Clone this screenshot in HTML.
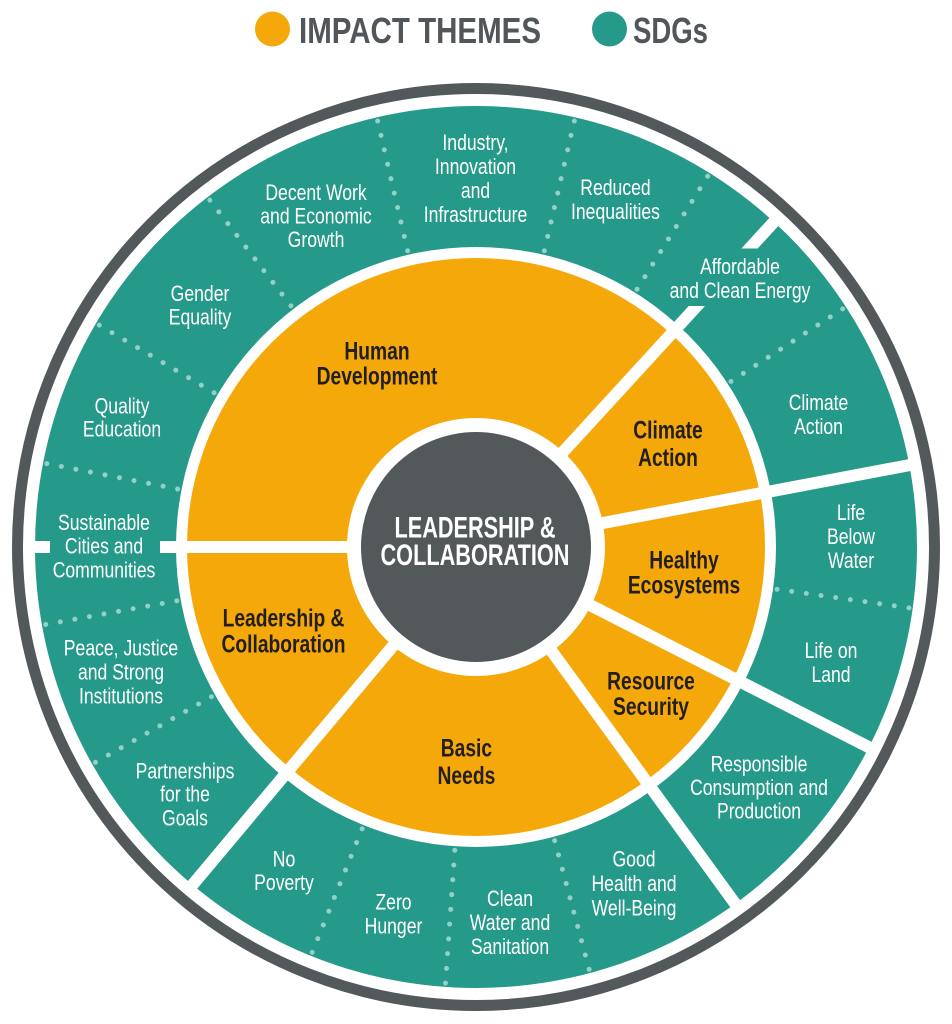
<!DOCTYPE html>
<html>
<head>
<meta charset="utf-8">
<style>
html,body{margin:0;padding:0;background:#ffffff;}
svg{display:block;}
.w{fill:#ffffff;font-family:"Liberation Sans",Arial,sans-serif;font-size:22px;text-anchor:middle;}
.o{fill:#231f20;font-family:"Liberation Sans",Arial,sans-serif;font-size:25px;font-weight:bold;text-anchor:middle;}
</style>
</head>
<body>
<svg width="952" height="1024" viewBox="0 0 952 1024" xmlns="http://www.w3.org/2000/svg">
  <!-- Legend -->
  <circle cx="272.5" cy="29" r="17.5" fill="#f5a80a"/>
  <text x="299" y="43" font-family="Liberation Sans, Arial, sans-serif" font-size="36" font-weight="bold" fill="#50565a" textLength="242" lengthAdjust="spacingAndGlyphs">IMPACT THEMES</text>
  <circle cx="609.5" cy="29" r="17.5" fill="#269a8a"/>
  <text x="633" y="43" font-family="Liberation Sans, Arial, sans-serif" font-size="36" font-weight="bold" fill="#50565a" textLength="75" lengthAdjust="spacingAndGlyphs">SDGs</text>

  <!-- Outer gray ring -->
  <circle cx="476" cy="547" r="458.5" fill="none" stroke="#53595b" stroke-width="11"/>

  <!-- Teal ring -->
  <circle cx="476" cy="547" r="441" fill="#269a8a"/>
  <circle cx="476" cy="547" r="300" fill="#ffffff"/>
  <!-- Orange ring -->
  <circle cx="476" cy="547" r="289" fill="#f5a80a"/>

  <!-- Dotted radial lines -->
  <g stroke="#93d1c6" stroke-width="5" stroke-linecap="round" stroke-dasharray="0 14.8" fill="none">
    <line x1="304" y1="0" x2="438" y2="0" transform="translate(476,547) rotate(-58)"/>
    <line x1="304" y1="0" x2="438" y2="0" transform="translate(476,547) rotate(-77)"/>
    <line x1="304" y1="0" x2="438" y2="0" transform="translate(476,547) rotate(-103)"/>
    <line x1="304" y1="0" x2="438" y2="0" transform="translate(476,547) rotate(-127.5)"/>
    <line x1="304" y1="0" x2="438" y2="0" transform="translate(476,547) rotate(-149.5)"/>
    <line x1="304" y1="0" x2="438" y2="0" transform="translate(476,547) rotate(-169)"/>
    <line x1="304" y1="0" x2="438" y2="0" transform="translate(476,547) rotate(-190.2)"/>
    <line x1="304" y1="0" x2="438" y2="0" transform="translate(476,547) rotate(-209.5)"/>
    <line x1="304" y1="0" x2="438" y2="0" transform="translate(476,547) rotate(-248)"/>
    <line x1="304" y1="0" x2="438" y2="0" transform="translate(476,547) rotate(-266)"/>
    <line x1="304" y1="0" x2="438" y2="0" transform="translate(476,547) rotate(-285)"/>
    <line x1="304" y1="0" x2="438" y2="0" transform="translate(476,547) rotate(-33)"/>
    <line x1="304" y1="0" x2="438" y2="0" transform="translate(476,547) rotate(8)"/>
  </g>

  <!-- Solid white dividers -->
  <g stroke="#ffffff" stroke-width="12" fill="none">
    <line x1="0" y1="0" x2="443" y2="0" transform="translate(476,547) rotate(-47.5)"/>
    <line x1="0" y1="0" x2="443" y2="0" transform="translate(476,547) rotate(-10.7)"/>
    <line x1="0" y1="0" x2="443" y2="0" transform="translate(476,547) rotate(27)"/>
    <line x1="0" y1="0" x2="443" y2="0" transform="translate(476,547) rotate(54)"/>
    <line x1="0" y1="0" x2="443" y2="0" transform="translate(476,547) rotate(130)"/>
    <line x1="0" y1="0" x2="443" y2="0" transform="translate(476,547) rotate(180)"/>
  </g>

  <!-- Breaks in divider lines behind labels -->
  <rect x="50" y="539" width="110" height="16" fill="#269a8a"/>
  <rect x="684" y="248.5" width="78" height="57.5" fill="#269a8a"/>

  <!-- Center circle -->
  <circle cx="476" cy="547" r="129" fill="#ffffff"/>
  <circle cx="476" cy="547" r="115" fill="#53595b"/>
  <text x="475" y="537.3" font-family="Liberation Sans, Arial, sans-serif" font-size="30" font-weight="bold" fill="#ffffff" text-anchor="middle" textLength="161" lengthAdjust="spacingAndGlyphs">LEADERSHIP &amp;</text>
  <text x="475" y="565" font-family="Liberation Sans, Arial, sans-serif" font-size="30" font-weight="bold" fill="#ffffff" text-anchor="middle" textLength="189" lengthAdjust="spacingAndGlyphs">COLLABORATION</text>

  <!-- Orange labels -->
  <g class="o" transform="translate(377,0) scale(0.77,1)">
    <text x="0" y="359.3">Human</text>
    <text x="0" y="384.3">Development</text>
  </g>
  <g class="o" transform="translate(668,0) scale(0.77,1)">
    <text x="0" y="438.3">Climate</text>
    <text x="0" y="466">Action</text>
  </g>
  <g class="o" transform="translate(684,0) scale(0.77,1)">
    <text x="0" y="568.3">Healthy</text>
    <text x="0" y="593.3">Ecosystems</text>
  </g>
  <g class="o" transform="translate(651,0) scale(0.77,1)">
    <text x="0" y="689.3">Resource</text>
    <text x="0" y="715">Security</text>
  </g>
  <g class="o" transform="translate(283.5,0) scale(0.77,1)">
    <text x="0" y="626.7">Leadership &amp;</text>
    <text x="0" y="652.7">Collaboration</text>
  </g>
  <g class="o" transform="translate(466.4,0) scale(0.77,1)">
    <text x="0" y="756.7">Basic</text>
    <text x="0" y="784">Needs</text>
  </g>

  <!-- Teal labels -->
  <g class="w" transform="translate(316,0) scale(0.8,1)">
    <text x="0" y="200">Decent Work</text>
    <text x="0" y="223.5">and Economic</text>
    <text x="0" y="247">Growth</text>
  </g>
  <g class="w" transform="translate(475.5,0) scale(0.8,1)">
    <text x="0" y="150">Industry,</text>
    <text x="0" y="174">Innovation</text>
    <text x="0" y="198">and</text>
    <text x="0" y="222">Infrastructure</text>
  </g>
  <g class="w" transform="translate(615.5,0) scale(0.8,1)">
    <text x="0" y="195">Reduced</text>
    <text x="0" y="219">Inequalities</text>
  </g>
  <g class="w" transform="translate(740,0) scale(0.8,1)">
    <text x="0" y="274">Affordable</text>
    <text x="0" y="298">and Clean Energy</text>
  </g>
  <g class="w" transform="translate(818.5,0) scale(0.8,1)">
    <text x="0" y="410">Climate</text>
    <text x="0" y="434">Action</text>
  </g>
  <g class="w" transform="translate(851,0) scale(0.8,1)">
    <text x="0" y="520">Life</text>
    <text x="0" y="544">Below</text>
    <text x="0" y="568">Water</text>
  </g>
  <g class="w" transform="translate(831,0) scale(0.8,1)">
    <text x="0" y="658">Life on</text>
    <text x="0" y="682">Land</text>
  </g>
  <g class="w" transform="translate(759,0) scale(0.8,1)">
    <text x="0" y="771.5">Responsible</text>
    <text x="0" y="795">Consumption and</text>
    <text x="0" y="818.5">Production</text>
  </g>
  <g class="w" transform="translate(634,0) scale(0.8,1)">
    <text x="0" y="866.7">Good</text>
    <text x="0" y="891">Health and</text>
    <text x="0" y="915.7">Well-Being</text>
  </g>
  <g class="w" transform="translate(510,0) scale(0.8,1)">
    <text x="0" y="906">Clean</text>
    <text x="0" y="930">Water and</text>
    <text x="0" y="954">Sanitation</text>
  </g>
  <g class="w" transform="translate(393.5,0) scale(0.8,1)">
    <text x="0" y="909.3">Zero</text>
    <text x="0" y="933.3">Hunger</text>
  </g>
  <g class="w" transform="translate(284,0) scale(0.8,1)">
    <text x="0" y="866.7">No</text>
    <text x="0" y="890">Poverty</text>
  </g>
  <g class="w" transform="translate(185,0) scale(0.8,1)">
    <text x="0" y="778.3">Partnerships</text>
    <text x="0" y="801.7">for the</text>
    <text x="0" y="825.7">Goals</text>
  </g>
  <g class="w" transform="translate(121,0) scale(0.8,1)">
    <text x="0" y="655.7">Peace, Justice</text>
    <text x="0" y="679.3">and Strong</text>
    <text x="0" y="703.3">Institutions</text>
  </g>
  <g class="w" transform="translate(104,0) scale(0.8,1)">
    <text x="0" y="530">Sustainable</text>
    <text x="0" y="553.3">Cities and</text>
    <text x="0" y="577.3">Communities</text>
  </g>
  <g class="w" transform="translate(122,0) scale(0.8,1)">
    <text x="0" y="413.3">Quality</text>
    <text x="0" y="436.7">Education</text>
  </g>
  <g class="w" transform="translate(200,0) scale(0.8,1)">
    <text x="0" y="301">Gender</text>
    <text x="0" y="324.3">Equality</text>
  </g>
</svg>
</body>
</html>
